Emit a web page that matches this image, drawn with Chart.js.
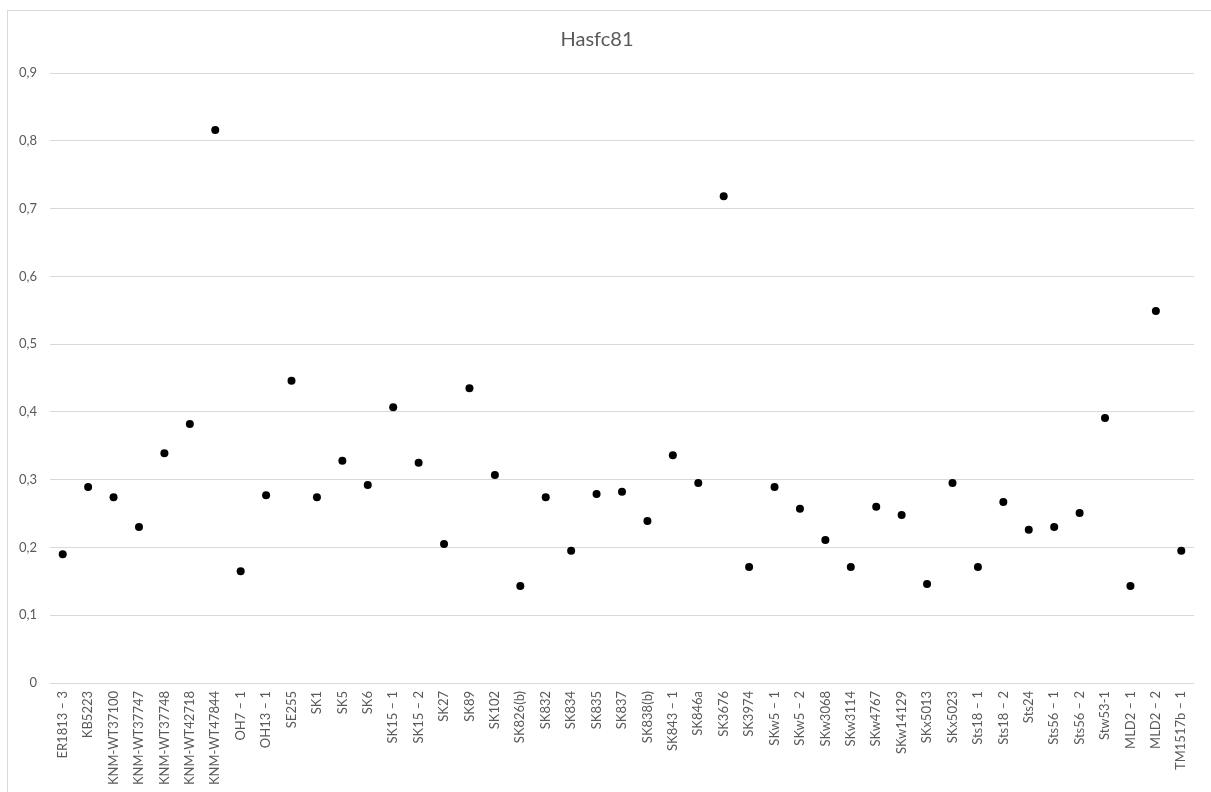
<!DOCTYPE html>
<html>
<head>
<meta charset="utf-8">
<script src="https://cdn.jsdelivr.net/npm/chart.js@4"></script>
<style>
  html, body { margin: 0; padding: 0; background: #ffffff; }
  #frame { position: absolute; left: 7px; top: 10px; width: 1210px; height: 790px; border: 1px solid #d9d9d9; box-sizing: border-box; }
  #c { position: absolute; left: 0; top: 0; }
</style>
</head>
<body>
<div id="frame"></div>
<canvas id="c" width="1211" height="792"></canvas>
<script>
// Specimens along the category axis
const specimens = [
  "ER1813 – 3", "KB5223", "KNM-WT37100", "KNM-WT37747", "KNM-WT37748",
  "KNM-WT42718", "KNM-WT47844", "OH7 – 1", "OH13 – 1", "SE255",
  "SK1", "SK5", "SK6", "SK15 – 1", "SK15 – 2",
  "SK27", "SK89", "SK102", "SK826(b)", "SK832",
  "SK834", "SK835", "SK837", "SK838(b)", "SK843 – 1",
  "SK846a", "SK3676", "SK3974", "SKw5 – 1", "SKw5 – 2",
  "SKw3068", "SKw3114", "SKw4767", "SKw14129", "SKx5013",
  "SKx5023", "Sts18 – 1", "Sts18 – 2", "Sts24", "Sts56 – 1",
  "Sts56 – 2", "Stw53-1", "MLD2 – 1", "MLD2 – 2", "TM1517b – 1"
];

// Hasfc81 value per specimen
const hasfc81 = [
  0.190, 0.289, 0.274, 0.230, 0.339,
  0.382, 0.816, 0.165, 0.277, 0.446,
  0.274, 0.328, 0.292, 0.407, 0.325,
  0.205, 0.435, 0.307, 0.143, 0.274,
  0.195, 0.279, 0.282, 0.239, 0.336,
  0.295, 0.718, 0.171, 0.289, 0.257,
  0.211, 0.171, 0.260, 0.248, 0.146,
  0.295, 0.171, 0.267, 0.226, 0.230,
  0.251, 0.391, 0.143, 0.549, 0.195
];

// Value axis range and step
const yMin = 0;
const yMax = 0.9;
const yStep = 0.1;

const fontFamily = "Lato, 'Open Sans', 'Liberation Sans', sans-serif";
const textGrey = "#595959";
const gridGrey = "#d9d9d9";

new Chart(document.getElementById("c"), {
  type: "line",
  data: {
    labels: specimens,
    datasets: [{
      label: "Hasfc81",
      data: hasfc81,
      showLine: false,
      pointRadius: 4,
      pointHoverRadius: 4,
      pointBackgroundColor: "#000000",
      pointBorderColor: "#000000",
      pointBorderWidth: 0
    }]
  },
  options: {
    responsive: false,
    animation: false,
    layout: { padding: { top: 11.4, right: 17, bottom: 0, left: 0 } },
    plugins: {
      legend: { display: false },
      tooltip: { enabled: false },
      title: {
        display: true,
        text: "Hasfc81",
        color: textGrey,
        font: { family: fontFamily, size: 20, weight: "normal", lineHeight: 1.2 },
        padding: { top: 16, bottom: 21.6 }
      }
    },
    scales: {
      x: {
        type: "category",
        offset: true,
        grid: { display: false, drawTicks: false },
        border: { display: false },
        ticks: {
          autoSkip: false,
          minRotation: 90,
          maxRotation: 90,
          padding: 8,
          color: textGrey,
          font: { family: fontFamily, size: 13 }
        },
        afterFit(scale) { scale.height = 109; }
      },
      y: {
        min: yMin,
        max: yMax,
        grid: { color: gridGrey, lineWidth: 1, drawTicks: false },
        border: { display: false },
        ticks: {
          stepSize: yStep,
          padding: 13,
          color: textGrey,
          font: { family: fontFamily, size: 13 },
          callback: v => (Math.round(v * 10) / 10).toString().replace(".", ",")
        },
        afterFit(scale) { scale.width = 50; }
      }
    }
  }
});
</script>
</body>
</html>
